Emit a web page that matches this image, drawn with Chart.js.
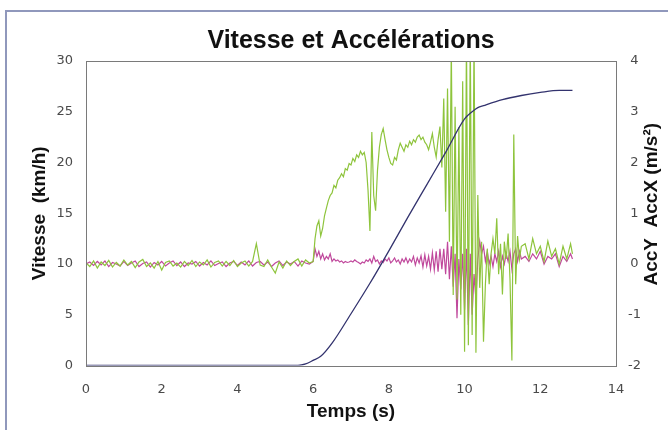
<!DOCTYPE html>
<html lang="fr">
<head>
<meta charset="UTF-8">
<title>Vitesse et Accélérations</title>
<script src="https://cdn.jsdelivr.net/npm/chart.js"></script>
<style>
  html, body { margin: 0; padding: 0; background: #fff; }
  #wrap { position: relative; width: 668px; height: 430px; overflow: hidden; }
  #frame { position: absolute; left: 5px; top: 10px; width: 700px; height: 500px;
           border-left: 2px solid #9098bc; border-top: 2px solid #9098bc; }
  canvas { position: absolute; left: 0; top: 0; }
</style>
</head>
<body>
<div id="wrap">
  <div id="frame"></div>
  <canvas id="chart" width="668" height="430"></canvas>
</div>
<script>
// temps des mesures d'accélération (s)
const temps = [
  0,0.1,0.2,0.3,0.4,0.5,0.6,0.7,0.8,0.9,
  1.0,1.1,1.2,1.3,1.4,1.5,1.6,1.7,1.8,1.9,
  2.0,2.1,2.2,2.3,2.4,2.5,2.6,2.7,2.8,2.9,
  3.0,3.1,3.2,3.3,3.4,3.5,3.6,3.7,3.8,3.9,
  4.0,4.1,4.2,4.3,4.4,4.5,4.6,4.7,4.8,4.9,
  5.0,5.1,5.2,5.3,5.4,5.5,5.6,5.7,5.8,5.9,
  6.0,
  6.05,6.1,6.15,6.2,6.25,6.3,6.35,6.4,6.45,6.5,
  6.55,6.6,6.65,6.7,6.75,6.8,6.85,6.9,6.95,7.0,
  7.05,7.1,7.15,7.2,7.25,7.3,7.35,7.4,7.45,7.5,
  7.55,7.6,7.65,7.7,7.75,7.8,7.85,7.9,7.95,8.0,
  8.05,8.1,8.15,8.2,8.25,8.3,8.35,8.4,8.45,8.5,
  8.55,8.6,8.65,8.7,8.75,8.8,8.85,8.9,8.95,9.0,
  9.05,9.1,9.15,9.2,9.25,9.3,9.35,9.4,
  9.45,9.5,9.55,9.6,9.65,9.7,9.75,9.8,9.85,9.9,9.95,10.0,10.05,10.1,10.15,10.2,10.25,10.3,10.35,10.4,10.45,
  10.5,10.55,10.6,10.65,10.7,10.75,10.8,10.85,10.9,10.95,11.0,11.05,11.1,11.15,11.2,11.25,11.3,11.35,11.4,11.45,11.5,
  11.6,11.7,11.8,11.9,12.0,12.1,12.2,12.3,12.4,12.5,12.6,12.7,12.8,12.85
];

// AccX (m/s²)
const accX = [
  0.02,-0.05,0.06,-0.08,0.04,-0.03,0.07,-0.06,0.03,-0.04,
  0.08,-0.02,0.05,-0.07,0.04,0.09,-0.05,0.02,-0.08,0.05,
  -0.12,0.03,0.06,-0.04,0.02,-0.06,0.05,-0.03,0.07,-0.05,
  0.04,-0.02,0.08,-0.06,0.03,0.06,-0.04,0.05,-0.03,0.07,
  -0.05,0.02,0.06,-0.04,0.05,0.4,-0.02,-0.05,0.08,-0.06,
  -0.18,0.04,-0.08,0.06,-0.03,0.05,0.1,-0.04,0.08,0.02,
  0.05,
  0.5,0.75,0.85,0.55,0.7,0.95,1.1,1.25,1.35,1.4,
  1.55,1.5,1.65,1.7,1.78,1.72,1.88,1.85,1.98,1.95,
  2.08,2.02,2.15,2.1,2.22,2.15,2.2,2.0,1.45,0.65,
  2.6,1.35,1.05,1.85,2.3,2.55,2.67,2.45,2.25,2.1,
  1.98,1.95,2.1,2.05,2.25,2.38,2.3,2.22,2.35,2.3,
  2.42,2.35,2.45,2.4,2.5,2.54,2.45,2.5,2.4,2.35,
  2.25,2.4,2.57,2.3,2.11,2.45,2.71,1.9,
  3.26,1.03,3.46,0.44,4.3,-0.61,3.1,-0.7,2.7,-1.0,3.6,-1.73,4.5,-1.6,4.5,-1.4,4.5,-1.75,1.36,-0.47,0.44,
  -1.53,-0.4,0.3,-0.4,0.2,0.5,0.2,0.9,-0.2,0.4,-0.6,0.44,0.1,0.6,-0.3,-1.9,2.55,-0.4,0.55,0.1,0.35,
  0.4,0.1,0.5,0.2,0.35,0.05,0.45,0.15,0.3,0.0,0.35,0.1,0.4,0.2
];

// AccY (m/s²)
const accY = [
  0.0,0.04,-0.03,0.05,-0.02,0.06,-0.05,0.03,0.0,-0.04,
  0.05,-0.03,0.02,0.06,-0.05,0.01,0.04,-0.06,0.03,-0.02,
  0.05,-0.04,0.02,0.06,-0.03,0.04,-0.05,0.02,0.0,0.05,
  -0.04,0.03,-0.02,0.06,-0.03,0.01,0.04,-0.05,0.02,0.05,
  -0.03,0.04,-0.02,0.06,-0.04,0.03,0.05,-0.02,0.04,-0.05,
  0.02,0.06,-0.03,0.04,0.0,0.05,-0.04,0.06,0.02,0.0,
  0.05,
  0.3,0.15,0.25,0.1,0.2,0.08,0.15,0.1,0.2,0.05,
  0.1,0.06,0.08,0.04,0.06,0.02,0.05,0.03,0.04,0.06,
  0.04,0.08,0.05,0.03,0.0,0.04,0.02,0.08,0.05,0.1,
  0.02,0.15,0.05,0.08,0.0,0.06,0.03,0.1,0.06,0.12,
  0.02,0.06,0.12,0.04,0.08,0.0,0.1,0.04,0.12,0.02,
  0.1,0.04,0.15,-0.02,0.12,0.02,0.16,-0.06,0.18,-0.04,
  0.15,-0.1,0.22,-0.12,0.25,-0.15,0.3,-0.1,
  0.3,-0.2,0.44,-0.3,0.35,-0.45,0.2,-1.07,0.1,-0.5,0.2,-0.9,0.3,-1.2,0.2,-1.0,-0.2,-0.7,0.1,0.45,0.2,
  0.35,0.05,0.25,0.0,0.15,-0.05,0.2,0.05,0.25,-0.05,0.15,0.0,0.2,0.05,0.25,-0.1,0.2,0.3,0.05,0.25,0.1,
  0.15,0.05,0.2,0.1,0.25,0.0,0.15,0.1,0.2,-0.05,0.15,0.05,0.2,0.1
];

// vitesse (km/h)
const tempsVitesse = [0, 5.6, 5.8, 6.0, 6.2, 6.5, 7.0, 7.5, 8.0, 8.5, 9.0, 9.5, 10.0, 10.2, 10.35, 10.5, 11.0, 11.5, 12.0, 12.5, 12.85];
const vitesse      = [0, 0, 0.15, 0.5, 0.9, 2.2, 5.1, 8.1, 11.3, 14.6, 17.8, 21.0, 24.3, 25.0, 25.4, 25.6, 26.2, 26.6, 26.9, 27.1, 27.1];

const xTicks = [0, 2, 4, 6, 8, 10, 12, 14];

const tickFont = { family: 'DejaVu Sans', size: 13 };
const titleFont = { family: 'Liberation Sans', size: 19, weight: 'bold' };

const cadre = {
  id: 'cadre',
  afterDatasetsDraw(chart) {
    const { ctx, chartArea: a } = chart;
    ctx.save();
    ctx.strokeStyle = '#7a7a7a';
    ctx.lineWidth = 1;
    ctx.strokeRect(Math.round(a.left) + 0.5, Math.round(a.top) + 0.5,
                   Math.round(a.right - a.left), Math.round(a.bottom - a.top));
    ctx.restore();
  },
  afterDraw(chart) {
    // titre de l'axe de droite, lu de bas en haut
    const { ctx, chartArea: a } = chart;
    ctx.save();
    ctx.translate(652, (a.top + a.bottom) / 2 - 9);
    ctx.rotate(-Math.PI / 2);
    ctx.font = 'bold 19px "Liberation Sans"';
    ctx.fillStyle = '#111';
    ctx.textAlign = 'center';
    ctx.textBaseline = 'middle';
    ctx.fillText('AccY  AccX (m/s²)', 0, 0);
    ctx.restore();
  }
};

new Chart(document.getElementById('chart'), {
  type: 'line',
  data: {
    datasets: [
      {
        label: 'Vitesse',
        data: tempsVitesse.map((t, i) => ({ x: t, y: vitesse[i] })),
        yAxisID: 'y',
        borderColor: '#33336e',
        borderWidth: 1.3,
        cubicInterpolationMode: 'monotone',
        pointRadius: 0
      },
      {
        label: 'AccX',
        data: temps.map((t, i) => ({ x: t, y: accX[i] })),
        yAxisID: 'y1',
        borderColor: '#8ec43c',
        borderWidth: 1.2,
        pointRadius: 0
      },
      {
        label: 'AccY',
        data: temps.map((t, i) => ({ x: t, y: accY[i] })),
        yAxisID: 'y1',
        borderColor: '#c0489c',
        borderWidth: 1.2,
        pointRadius: 0
      }
    ]
  },
  options: {
    responsive: false,
    animation: false,
    layout: { padding: 0 },
    plugins: {
      legend: { display: false },
      tooltip: { enabled: false },
      title: {
        display: true,
        fullSize: false,
        text: 'Vitesse et Accélérations',
        color: '#111',
        font: { family: 'Liberation Sans', size: 25, weight: 'bold' },
        padding: { top: 26, bottom: 5 }
      }
    },
    scales: {
      x: {
        type: 'linear',
        position: 'bottom',
        min: 0,
        max: 14,
        afterBuildTicks: s => { s.ticks = xTicks.map(v => ({ value: v })); },
        ticks: { color: '#4a4a4a', font: tickFont, padding: 16 },
        grid: { display: false, drawTicks: false },
        border: { display: false },
        title: { display: true, text: 'Temps (s)', color: '#111', font: titleFont, padding: { top: 0, bottom: 7 } },
        afterFit: s => { s.height = 64.5; }
      },
      y: {
        position: 'left',
        min: 0,
        max: 30,
        ticks: { stepSize: 5, color: '#4a4a4a', font: tickFont, padding: 13 },
        grid: { display: false, drawTicks: false },
        border: { display: false },
        title: { display: true, text: 'Vitesse  (km/h)', color: '#111', font: titleFont, padding: { top: 28, bottom: 0 } },
        afterFit: s => { s.width = 86; }
      },
      y1: {
        position: 'right',
        min: -2,
        max: 4,
        ticks: { stepSize: 1, color: '#4a4a4a', font: tickFont, padding: 12, crossAlign: 'center' },
        grid: { display: false, drawTicks: false },
        border: { display: false },
        afterFit: s => { s.width = 52; }
      }
    }
  },
  plugins: [cadre]
});
</script>
</body>
</html>
